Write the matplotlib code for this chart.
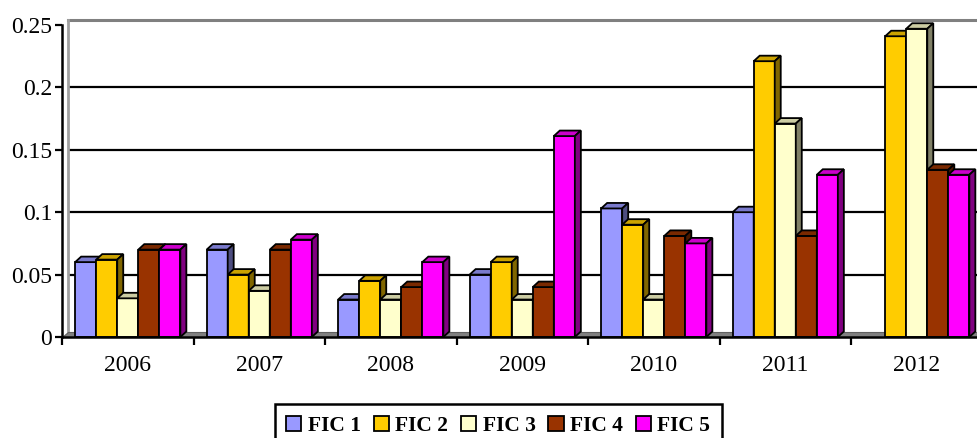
"""
Clustered 3-D style column chart, FIC 1..5 by year (2006-2012).
"""

import matplotlib.pyplot as plt
from matplotlib.patches import Patch, Polygon
import numpy as np

years = ["2006", "2007", "2008", "2009", "2010", "2011", "2012"]
series = ["FIC 1", "FIC 2", "FIC 3", "FIC 4", "FIC 5"]

fic1 = [0.060, 0.070, 0.030, 0.050, 0.103, 0.100, 0.000]
fic2 = [0.062, 0.050, 0.045, 0.060, 0.090, 0.221, 0.241]
fic3 = [0.031, 0.037, 0.030, 0.030, 0.030, 0.171, 0.247]
fic4 = [0.070, 0.070, 0.040, 0.040, 0.081, 0.081, 0.134]
fic5 = [0.070, 0.078, 0.060, 0.161, 0.075, 0.130, 0.130]

front_cols = ["#9999FF", "#FFCC00", "#FFFFCC", "#993300", "#FF00FF"]
top_cols   = ["#7A7ACC", "#CCA300", "#CCCCA3", "#7A2900", "#CC00CC"]
side_cols  = ["#4D4D80", "#806600", "#808066", "#4D1A00", "#800080"]

FONT = "Liberation Serif"
W, H = 977, 438
fig = plt.figure(figsize=(W / 100, H / 100), dpi=100, facecolor="white")

# axes: left axis at x=62, zero line at y=337, 0.25 at y=25, 131.5 px per year
ax_l, ax_b = 62, H - 337
ax_w, ax_h = 7 * 131.5, 337 - 25
ax = fig.add_axes([ax_l / W, ax_b / H, ax_w / W, ax_h / H])
ax.set_xlim(-0.5, 6.5)
ax.set_ylim(0, 0.25)

# depth of the 3-D effect, pixels -> data units
dx = 6 / 131.5
dy = 5.5 / (ax_h / 0.25)

# back wall, left wall, floor
xr = 7.0
ax.hlines([0.05, 0.10, 0.15, 0.20], -0.5 + dx, xr, colors="black",
          linewidth=1.6, zorder=1, clip_on=False)
ax.plot([-0.5 + dx, xr], [0.25 + dy, 0.25 + dy], color="#808080",
        linewidth=2.2, zorder=1, clip_on=False)
ax.plot([-0.5 + dx, -0.5 + dx], [dy, 0.25 + dy], color="#A0A0A0",
        linewidth=2.0, zorder=1, clip_on=False)
ax.add_patch(Polygon([(-0.5, 0), (xr, 0), (xr, dy), (-0.5 + dx, dy)],
                     closed=True, facecolor="#808080", edgecolor="#606060",
                     linewidth=0.8, zorder=1.5, clip_on=False))

data = [fic1, fic2, fic3, fic4, fic5]
bw = 0.16
x = np.arange(len(years))
z = 2
for gi in range(len(years)):
    for si, vals in enumerate(data):
        v = vals[gi]
        if v <= 0:
            continue
        x0 = x[gi] + (si - 2.5) * bw
        x1 = x0 + bw
        ax.bar(x0, v, width=bw, align="edge", color=front_cols[si],
               edgecolor="black", linewidth=1.3, zorder=z, clip_on=False)
        ax.add_patch(Polygon([(x0, v), (x1, v), (x1 + dx, v + dy), (x0 + dx, v + dy)],
                             closed=True, facecolor=top_cols[si], edgecolor="black",
                             linewidth=1.3, zorder=z + 0.1, clip_on=False))
        ax.add_patch(Polygon([(x1, 0), (x1, v), (x1 + dx, v + dy), (x1 + dx, dy)],
                             closed=True, facecolor=side_cols[si], edgecolor="black",
                             linewidth=1.3, zorder=z + 0.2, clip_on=False))
        z += 1

# axes styling
for s in ["top", "right"]:
    ax.spines[s].set_visible(False)
ax.spines["left"].set_linewidth(1.8)
ax.spines["bottom"].set_linewidth(1.8)
ax.spines["left"].set_zorder(200)
ax.spines["bottom"].set_zorder(200)

ax.set_yticks([0, 0.05, 0.10, 0.15, 0.20, 0.25])
ax.set_yticklabels(["0", "0.05", "0.1", "0.15", "0.2", "0.25"],
                   fontfamily=FONT, fontsize=17)
ax.tick_params(axis="y", direction="out", length=5, width=1.6, pad=2)

ax.set_xticks(np.arange(-0.5, 6.6, 1.0))
ax.set_xticklabels([])
ax.set_xticks(x, minor=True)
ax.set_xticklabels(years, minor=True, fontfamily=FONT, fontsize=17)
ax.tick_params(axis="x", which="major", direction="out", length=6, width=1.6)
ax.tick_params(axis="x", which="minor", length=0, pad=13)

handles = [Patch(facecolor=c, edgecolor="black", linewidth=1.3) for c in front_cols]
leg = fig.legend(handles, series, loc="upper center", ncol=5,
                 bbox_to_anchor=(0.510, 1 - 404 / H), borderaxespad=0,
                 prop={"family": FONT, "weight": "bold", "size": 15.5},
                 handlelength=0.7, handleheight=0.7, handletextpad=0.3,
                 columnspacing=0.6, borderpad=0.55, fancybox=False,
                 edgecolor="black", framealpha=1)
leg.get_frame().set_linewidth(1.8)

fig.savefig("out.png", dpi=100, facecolor="white")
